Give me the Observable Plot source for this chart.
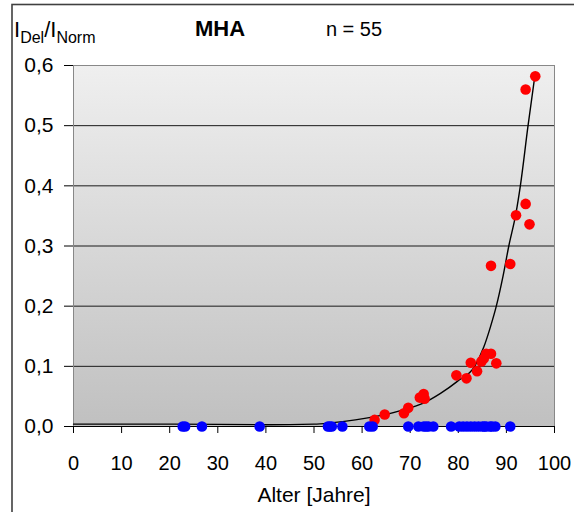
<!DOCTYPE html>
<html>
<head>
<meta charset="utf-8">
<script src="https://cdn.jsdelivr.net/npm/d3@7"></script>
<script src="https://cdn.jsdelivr.net/npm/@observablehq/plot@0.6"></script>
<style>
  html, body { margin: 0; padding: 0; background: #ffffff; }
  #chart svg { display: block; }
</style>
</head>
<body>
<div id="chart"></div>
<script>
// ---- data ----
const titleText = "MHA";
const nText = "n = 55";
const xLabel = "Alter [Jahre]";
const xTicks = [0, 10, 20, 30, 40, 50, 60, 70, 80, 90, 100];
const yTicks = [0, 0.1, 0.2, 0.3, 0.4, 0.5, 0.6];
const gridValues = [0.1, 0.2, 0.3, 0.4, 0.5];

// red points (deletion detected): age, ratio
const redAge = [62.6, 64.7, 68.7, 69.6, 72.0, 72.8, 73.0, 79.6, 81.7, 82.6, 83.9, 84.8, 85.3, 85.8, 86.8, 87.9, 86.8, 90.8, 92.0, 94.0, 94.0, 94.8, 96.0];
const redVal = [0.011, 0.020, 0.022, 0.031, 0.048, 0.054, 0.046, 0.085, 0.080, 0.106, 0.092, 0.108, 0.113, 0.121, 0.121, 0.105, 0.267, 0.270, 0.351, 0.560, 0.370, 0.336, 0.582];

// blue points (no deletion, ratio 0): age
const blueAge = [22.7, 23.2, 26.7, 38.7, 52.9, 53.3, 53.7, 55.9, 61.5, 62.2, 69.6, 71.7, 72.8, 73.3, 73.8, 74.8, 78.5, 80.2, 81.0, 81.8, 82.6, 83.4, 84.2, 85.0, 85.4, 85.8, 86.6, 87.0, 87.7, 90.8];
const blueVal = blueAge.map(() => 0);

// trend line
const trendAge = [0, 20, 40, 50, 53.4, 58.6, 62.4, 65.5, 68.7, 72.5, 76.3, 79.8, 83.4, 85.3, 86.7, 87.9, 89.3, 90.5, 92.0, 92.9, 94.5, 95.9];
const trendVal = [0.004, 0.004, 0.003, 0.004, 0.006, 0.011, 0.016, 0.021, 0.028, 0.038, 0.055, 0.075, 0.100, 0.132, 0.166, 0.200, 0.250, 0.300, 0.355, 0.400, 0.500, 0.582];

const red = redAge.map((a, i) => ({age: a, v: redVal[i]}));
const blue = blueAge.map((a, i) => ({age: a, v: blueVal[i]}));
const trend = trendAge.map((a, i) => ({age: a, v: trendVal[i]}));

const FONT = "Arial, 'Liberation Sans', sans-serif";

const defsMark = () => {
  const defs = d3.create("svg:defs");
  const g = defs.append("linearGradient").attr("id", "bgGrad")
    .attr("x1", 0).attr("y1", 0).attr("x2", 0).attr("y2", 1);
  g.append("stop").attr("offset", "0%").attr("stop-color", "#efefef");
  g.append("stop").attr("offset", "100%").attr("stop-color", "#c0c0c0");
  return defs.node();
};

const chart = Plot.plot({
  width: 574,
  height: 512,
  marginLeft: 73,
  marginRight: 20,
  marginTop: 65,
  marginBottom: 86,
  style: { fontFamily: FONT, background: "transparent", color: "#000" },
  x: { domain: [0, 100] },
  y: { domain: [0, 0.6] },
  marks: [
    defsMark,
    Plot.frame({ fill: "url(#bgGrad)", stroke: null }),
    Plot.ruleY(gridValues, { stroke: "#1a1a1a", strokeWidth: 1 }),
    Plot.frame({ stroke: "#888888", strokeWidth: 1 }),
    Plot.axisY({ ticks: yTicks, tickSize: 9, tickPadding: 11, fontSize: 21,
      tickFormat: d => d.toFixed(1).replace(".", ","), label: null, stroke: "#000" }),
    Plot.axisX({ ticks: xTicks, tickSize: 7, tickPadding: 22, fontSize: 20,
      tickFormat: d => String(d), label: null, stroke: "#000" }),
    Plot.ruleY([0], { stroke: "#000", strokeWidth: 1.2 }),
    Plot.line(trend, { x: "age", y: "v", stroke: "#000", strokeWidth: 1.4, curve: "monotone-x" }),
    Plot.dot(red, { x: "age", y: "v", r: 5.3, fill: "#ff0000", stroke: null }),
    Plot.dot(blue, { x: "age", y: "v", r: 5.3, fill: "#0000ff", stroke: null })
  ]
});

const svg = d3.select(chart);
// outer chart frame
svg.append("rect").attr("x", 12).attr("y", 4.5).attr("width", 600).attr("height", 560)
  .attr("fill", "none").attr("stroke", "#404040").attr("stroke-width", 1.6);

// title and n
svg.append("text").attr("x", 220).attr("y", 36).attr("text-anchor", "middle")
  .attr("font-family", FONT).attr("font-size", 22).attr("font-weight", "bold").text(titleText);
svg.append("text").attr("x", 354).attr("y", 36).attr("text-anchor", "middle")
  .attr("font-family", FONT).attr("font-size", 20).text(nText);

// y label I_Del / I_Norm
const yl = svg.append("text").attr("x", 14).attr("y", 37).attr("text-anchor", "start")
  .attr("font-family", FONT).attr("font-size", 22);
yl.append("tspan").text("I");
yl.append("tspan").attr("font-size", 16).attr("dy", 6).text("Del");
yl.append("tspan").attr("dy", -6).text("/I");
yl.append("tspan").attr("font-size", 16).attr("dy", 6).text("Norm");

// x label
svg.append("text").attr("x", 314).attr("y", 502).attr("text-anchor", "middle")
  .attr("font-family", FONT).attr("font-size", 21).text(xLabel);

document.getElementById("chart").appendChild(chart);
</script>
</body>
</html>
